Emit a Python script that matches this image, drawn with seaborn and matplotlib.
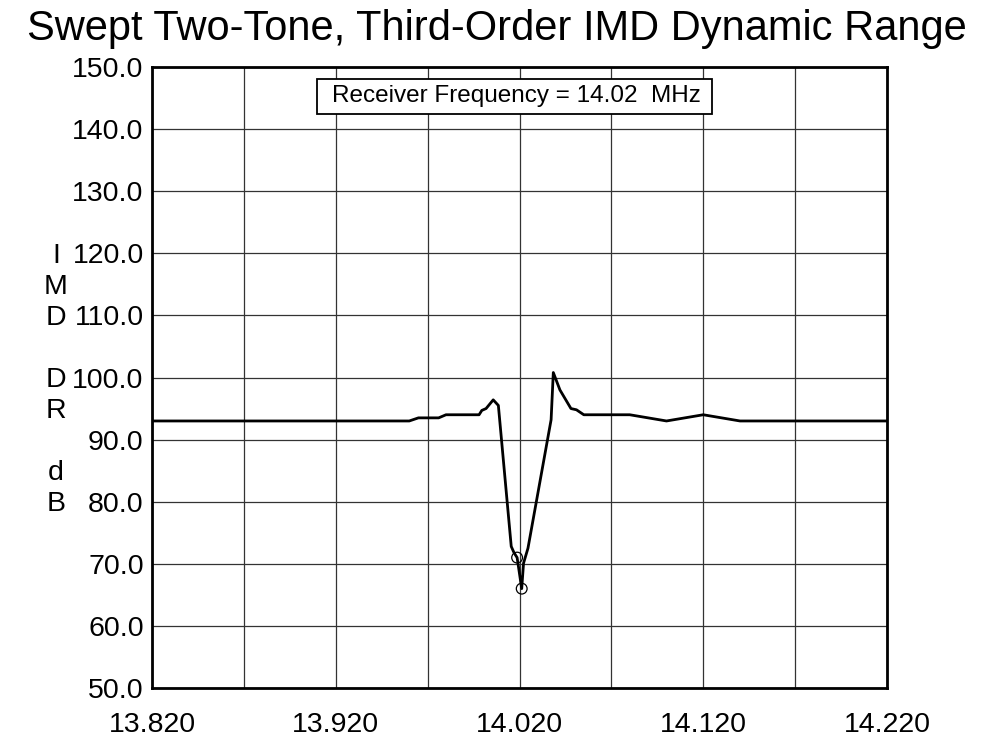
import matplotlib
matplotlib.use("Agg")
import matplotlib.pyplot as plt
import matplotlib.patches as mpatches
import seaborn as sns
import pandas as pd

# Swept two-tone IMD dynamic range, receiver tuned to 14.02 MHz
freq_mhz = [13.820, 13.960, 13.965, 13.976, 13.980, 13.998, 13.9995, 14.0018,
            14.0057, 14.0085, 14.0155, 14.0170, 14.0187, 14.0212, 14.0222,
            14.0246, 14.0372, 14.0384, 14.0420, 14.0480, 14.0510, 14.0550,
            14.0800, 14.1000, 14.1200, 14.1400, 14.2200]
imd_db = [93.0, 93.0, 93.5, 93.5, 94.0, 94.0, 94.7, 95.0,
          96.4, 95.5, 72.8, 71.8, 71.0, 66.0, 70.1,
          72.5, 93.2, 100.8, 98.0, 95.0, 94.8, 94.0,
          94.0, 93.0, 94.0, 93.0, 93.0]

# measured points marked with circles
marker_freq = [14.0187, 14.0212]
marker_db = [71.0, 66.0]

x_ticks = [13.820, 13.920, 14.020, 14.120, 14.220]
x_grid = [13.820, 13.870, 13.920, 13.970, 14.020, 14.070, 14.120, 14.170, 14.220]
y_ticks = [50.0, 60.0, 70.0, 80.0, 90.0, 100.0, 110.0, 120.0, 130.0, 140.0, 150.0]

title = "Swept Two-Tone, Third-Order IMD Dynamic Range"
note = "Receiver Frequency = 14.02  MHz"
ylabel_lines = ["I", "M", "D", "", "D", "R", "", "d", "B"]

sns.set_theme(style="white")
plt.rcParams["font.family"] = ["Liberation Sans", "DejaVu Sans"]

W, H = 985, 738
fig = plt.figure(figsize=(W / 100, H / 100), dpi=100)
ax = fig.add_axes([152 / W, 1 - 688 / H, (887 - 152) / W, (688 - 67) / H])

curve = pd.DataFrame({"freq": freq_mhz, "imd": imd_db})
marks = pd.DataFrame({"freq": marker_freq, "imd": marker_db})

sns.lineplot(data=curve, x="freq", y="imd", sort=False, estimator=None,
             color="black", linewidth=2.0, ax=ax, zorder=4)
sns.scatterplot(data=marks, x="freq", y="imd", marker="o", s=60,
                facecolor="none", edgecolor="black", linewidth=0.9, ax=ax, zorder=5)

ax.set_xlim(13.820, 14.220)
ax.set_ylim(50, 150)
ax.set_xticks(x_grid)
ax.set_xticklabels([f"{v:.3f}" if v in x_ticks else "" for v in x_grid])
ax.set_yticks(y_ticks)
ax.set_yticklabels([f"{v:.1f}" for v in y_ticks])
ax.tick_params(axis="both", length=0, labelsize=20.5, colors="black")
ax.tick_params(axis="x", pad=17)
ax.tick_params(axis="y", pad=6)
ax.grid(True, color="#333333", linewidth=0.9)
ax.set_axisbelow(True)
for s in ax.spines.values():
    s.set_visible(True)
    s.set_color("black")
    s.set_linewidth(2.0)
ax.set_xlabel("")
ax.set_ylabel("")

# receiver frequency note box
box = mpatches.Rectangle((0.2245, 0.9243), 0.762 - 0.2245, 0.9807 - 0.9243,
                         transform=ax.transAxes, facecolor="white",
                         edgecolor="black", linewidth=1.3, zorder=6)
ax.add_patch(box)
ax.text(0.4959, 0.9525, note, transform=ax.transAxes, ha="center", va="center",
        fontsize=17.5, color="black", zorder=7)

# stacked y-axis label
baseline = 263
for ch in ylabel_lines:
    if ch:
        fig.text(56 / W, 1 - baseline / H, ch, ha="center", va="baseline",
                 fontsize=20.5, color="black")
    baseline += 31

fig.text(497 / W, 1 - 40 / H, title, ha="center", va="baseline",
         fontsize=30, color="black")

fig.savefig("out.png", dpi=100, facecolor="white")
